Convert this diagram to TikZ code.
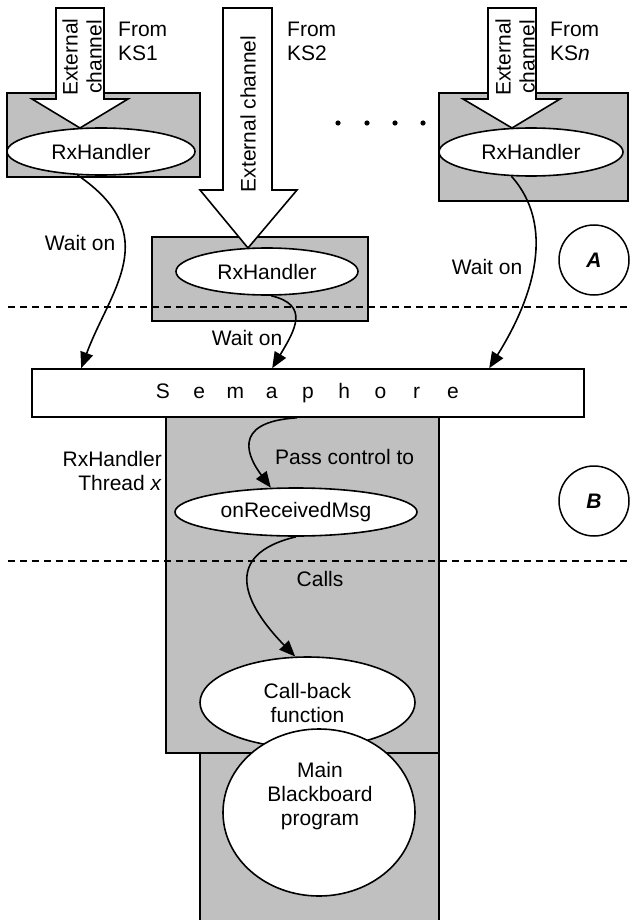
\documentclass[tikz,border=0pt]{standalone}
\usepackage{fontspec}
\setmainfont{Liberation Sans}
\usetikzlibrary{arrows.meta,shapes.geometric}

\definecolor{boxgray}{HTML}{C0C0C0}
\newcommand{\sletter}[1]{\makebox[36.25pt]{#1}}

\tikzset{
  graybox/.style={draw, fill=boxgray, line width=1.6pt},
  blockarrow/.style={draw, fill=white, line width=1.6pt},
  handler/.style={draw, fill=white, ellipse, inner sep=0pt, line width=1.6pt},
  lbl/.style={inner sep=0pt},
  waitarrow/.style={-{Triangle[length=16pt,width=13pt]}, line width=1.6pt},
  divider/.style={line width=1.5pt, dash pattern=on 7pt off 5pt},
  zone/.style={draw, circle, fill=white, minimum size=70pt, inner sep=0pt, line width=1.5pt,
    font=\fontsize{21}{24}\selectfont\bfseries\itshape},
}

\begin{document}
\begin{tikzpicture}[x=1pt, y=-1pt, font=\fontsize{21}{24}\selectfont]
\useasboundingbox (0,0) rectangle (629,920);

% handler boxes
\draw[graybox] (7,93) rectangle (200,177);
\draw[graybox] (152,237) rectangle (368,321);
\draw[graybox] (439,93) rectangle (628,201);

% thread
\draw[graybox] (166,417) rectangle (439,753);
\draw[graybox] (200,753) rectangle (439,930);

\draw[divider] (8,307) -- (629,307);
\draw[divider] (8,561) -- (629,561);

% external channels
\draw[blockarrow] (56,8) -- (104,8) -- (104,99) -- (128,99) -- (80,128) -- (32,99) -- (56,99) -- cycle;
\draw[blockarrow] (223,8) -- (272,8) -- (272,190) -- (297,190) -- (248,248) -- (200,190) -- (223,190) -- cycle;
\draw[blockarrow] (488,8) -- (536,8) -- (536,99) -- (560,99) -- (512,128) -- (463,99) -- (488,99) -- cycle;
\node[lbl, rotate=90, align=center] (ec1) at (82,57) {External\\channel};
\node[lbl, rotate=90] (ec2) at (248,114) {External channel};
\node[lbl, rotate=90, align=center] (ecn) at (515,57) {External\\channel};

\node[lbl, anchor=west, align=left] (from1) at (118,41) {From\\KS1};
\node[lbl, anchor=west, align=left] (from2) at (287,41) {From\\KS2};
\node[lbl, anchor=west, align=left] (fromn) at (550,41) {From\\KS\textit{n}};

\foreach \x in {338,367,395,423}
  \fill (\x,123) circle (2.6pt);

\node[handler, minimum width=188pt, minimum height=47pt] (rx1) at (101,151.5) {RxHandler};
\node[handler, minimum width=182pt, minimum height=47pt] (rx2) at (267,271.5) {RxHandler};
\node[handler, minimum width=184pt, minimum height=48pt] (rxn) at (531,152) {RxHandler};

\node[zone] (zoneA) at (594,260) {A};
\node[zone] (zoneB) at (594,501) {B};

\node[draw, fill=white, line width=1.6pt, minimum width=552pt, minimum height=48pt, inner sep=0pt] (sem) at (308,393)
  {\sletter{S}\sletter{e}\sletter{m}\sletter{a}\sletter{p}\sletter{h}\sletter{o}\sletter{r}\sletter{e}\hspace{22pt}};

\node[lbl] (wait1) at (80,243) {Wait on};
\node[lbl] (wait2) at (247,338) {Wait on};
\node[lbl] (waitn) at (487,267) {Wait on};

\draw[waitarrow] (rx1.225) .. controls (165,235) and (110,290) .. ([shift={(50,0)}]sem.north west);
\draw[waitarrow] (rx2.-80) .. controls (310,305) and (295,330) .. ([shift={(241,0)}]sem.north west);
\draw[waitarrow] (rxn.231) .. controls (555,225) and (535,295) .. ([shift={(458,0)}]sem.north west);

% inside the thread
\node[lbl, anchor=east, align=right] (thread) at (162,471) {RxHandler\\Thread \textit{x}};
\node[handler, minimum width=242pt, minimum height=48pt] (orm) at (296,512) {onReceivedMsg};
\node[lbl, anchor=west] (pass) at (275,457) {Pass control to};
\node[lbl] (calls) at (320,579) {Calls};
\node[handler, align=center, minimum width=215pt, minimum height=91pt] (cb) at (307.5,702.5) {Call-back\\function};
\node[handler, minimum width=192pt, minimum height=167pt] (mbp) at (319,812.5) {};
\node[lbl, align=center] (mbptext) at (320,796) {Main\\Blackboard\\program};

\draw[waitarrow] ([shift={(-11,0)}]sem.south) .. controls (228,422) and (250,460) .. (orm.136);
\draw[waitarrow] (orm.south) .. controls (220,555) and (245,605) .. (cb.105);
\end{tikzpicture}
\end{document}
